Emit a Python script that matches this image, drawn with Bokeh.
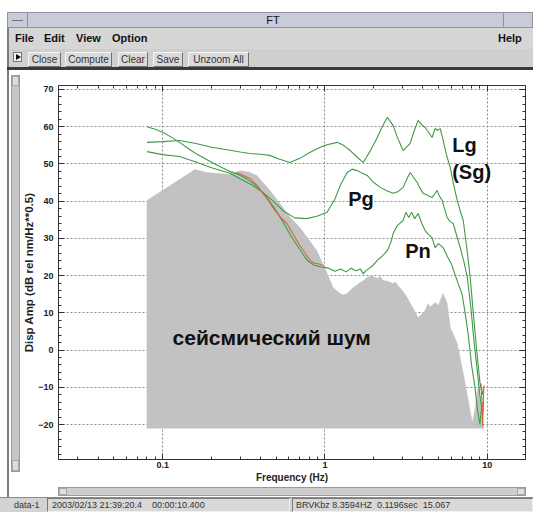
from bokeh.plotting import figure
from bokeh.models import Div, Label, LinearAxis, LogAxis, FixedTicker, Range1d
from bokeh.layouts import column, row
from bokeh.embed import file_html
from bokeh.resources import INLINE

# ---- spectra (frequency in Hz, displacement amplitude in dB) ----
noise_floor = -21.0
noise_f = [0.080, 0.158, 0.187, 0.22, 0.26, 0.30, 0.34, 0.38, 0.457, 0.527, 0.60, 0.70, 0.80,
           0.89, 0.96, 1.03, 1.12, 1.24, 1.30, 1.37, 1.43, 1.49, 1.56, 1.64, 1.72, 1.82, 1.95,
           2.02, 2.10, 2.20, 2.28, 2.45, 2.63, 2.72, 2.82, 3.0, 3.21, 3.49, 3.75, 3.97, 4.14,
           4.32, 4.45, 4.57, 4.77, 4.99, 5.15, 5.35, 5.66, 5.91, 6.53, 7.11, 7.64, 8.08,
           8.44, 8.80, 9.31, 9.50]
noise_db = [40.2, 48.5, 47.7, 47.4, 47.2, 48.2, 47.8, 46.9, 42.9, 39.4, 36.0, 32.9, 29.5,
            26.7, 23.5, 20.6, 16.8, 15.2, 14.8, 15.2, 16.0, 16.8, 17.3, 18.1, 18.6, 19.5, 20.0,
            19.6, 19.2, 19.8, 18.7, 18.4, 17.9, 18.3, 17.3, 16.0, 14.1, 11.2, 8.7, 9.8, 10.6,
            12.5, 11.6, 12.0, 12.8, 12.0, 13.5, 15.2, 12.5, 6.1, 1.8, -6.3, -13.6, -19.5,
            -15.4, -9.0, -19.7, -21.0]

lg_f = [0.080, 0.10, 0.127, 0.16, 0.20, 0.25, 0.30, 0.344, 0.40, 0.457, 0.52, 0.608, 0.70,
        0.80, 0.893, 1.0, 1.19, 1.30, 1.43, 1.58, 1.72, 1.90, 2.10, 2.25, 2.42, 2.52, 2.63,
        2.80, 3.03, 3.18, 3.35, 3.55, 3.75, 3.95, 4.14, 4.35, 4.57, 4.77, 4.95, 5.13, 5.35,
        5.60, 5.91, 6.20, 6.53, 6.80, 7.11, 7.50, 7.85, 8.20, 8.60, 9.00, 9.30, 9.50]
lg_db = [55.8, 56.0, 56.3, 55.5, 54.5, 53.8, 53.2, 52.8, 52.6, 52.3, 51.3, 50.4, 51.5,
         53.0, 54.1, 55.0, 55.8, 55.0, 53.6, 51.8, 50.4, 53.5, 57.1, 60.0, 62.5, 61.5, 60.3,
         57.0, 53.6, 54.5, 55.5, 59.0, 61.7, 60.5, 59.8, 58.5, 57.1, 59.5, 59.0, 59.5, 56.3,
         52.5, 49.0, 44.5, 40.2, 37.5, 34.8, 27.0, 19.5, 10.0, 0.0, -8.5, -12.0, -10.0]

pg_f = [0.080, 0.10, 0.127, 0.16, 0.20, 0.26, 0.30, 0.35, 0.41, 0.48, 0.55, 0.65, 0.774,
        0.90, 1.03, 1.15, 1.25, 1.37, 1.47, 1.58, 1.70, 1.82, 2.0, 2.19, 2.40, 2.63, 2.80,
        3.03, 3.20, 3.35, 3.50, 3.70, 3.85, 4.03, 4.30, 4.57, 4.75, 4.91, 5.05, 5.27, 5.45,
        5.66, 5.90, 6.17, 6.50, 6.81, 7.20, 7.53, 7.90, 8.30, 8.70, 9.00, 9.30, 9.50]
pg_db = [53.3, 52.5, 52.0, 50.5, 49.0, 47.5, 46.0, 44.5, 42.5, 40.0, 37.5, 35.5, 35.3,
         36.0, 37.0, 40.5, 44.5, 47.7, 48.6, 48.2, 47.5, 46.9, 45.0, 43.7, 42.8, 42.1, 42.5,
         43.7, 46.0, 47.7, 46.5, 45.0, 43.5, 42.1, 41.5, 41.0, 42.0, 42.9, 41.5, 40.2, 38.0,
         35.6, 34.5, 34.0, 30.5, 27.5, 23.5, 19.5, 12.0, 2.0, -6.0, -12.0, -17.0, -14.0]

pn_f = [0.080, 0.09, 0.10, 0.115, 0.127, 0.145, 0.16, 0.19, 0.22, 0.26, 0.29, 0.33, 0.38,
        0.43, 0.49, 0.55, 0.62, 0.70, 0.78, 0.86, 0.95, 1.05, 1.15, 1.25, 1.35, 1.45, 1.55,
        1.65, 1.72, 1.80, 1.95, 2.10, 2.25, 2.42, 2.55, 2.63, 2.80, 3.03, 3.15, 3.28, 3.42,
        3.57, 3.75, 3.95, 4.14, 4.35, 4.57, 4.77, 5.0, 5.35, 5.70, 6.0, 6.30, 6.61, 7.0,
        7.30, 7.64, 8.0, 8.40, 8.70, 9.0, 9.30]
pn_db = [60.0, 59.3, 58.5, 57.0, 55.8, 54.0, 52.8, 51.0, 49.5, 48.0, 47.2, 46.0, 44.0,
         41.5, 38.0, 34.5, 30.5, 27.0, 24.0, 22.8, 22.3, 22.0, 21.2, 21.8, 21.0, 22.0, 21.3,
         21.8, 20.5, 21.4, 22.5, 24.1, 25.2, 26.7, 29.0, 31.3, 33.5, 34.8, 37.0, 35.6, 37.0,
         35.3, 36.7, 34.0, 32.1, 31.0, 30.2, 27.5, 28.6, 27.5, 25.0, 23.2, 20.5, 17.9, 15.0,
         10.0, 4.0, -4.0, -10.0, -16.0, -20.0, -14.0]

red_f = [0.286, 0.31, 0.344, 0.38, 0.414, 0.45, 0.491, 0.53, 0.582, 0.64, 0.70, 0.76, 0.81,
         0.86, 0.90, 0.95, 0.99]
red_db = [47.7, 47.0, 46.1, 44.3, 42.1, 40.0, 37.5, 35.8, 34.0, 31.0, 28.1, 25.8, 24.1,
          23.3, 23.2, 22.9, 22.7]
red_hf_f = [9.15, 9.25, 9.32, 9.38, 9.43, 9.48, 9.55]
red_hf_db = [-9.0, -13.0, -18.0, -20.5, -16.0, -12.0, -9.5]

x_major = [0.1, 1, 10]
x_labels = ["0.1", "1", "10"]
x_minor = [k * 10.0 ** e for e in (-2, -1, 0, 1) for k in range(2, 10)]
y_major = list(range(-20, 71, 10))
y_minor = list(range(-28, 71, 2))

FONT = "'Liberation Sans', Arial, sans-serif"
GREEN = "#3f9a45"
RED = "#d2683a"

# ---- spectrum plot ----
p = figure(width=513, height=415, x_axis_type="log",
           x_range=Range1d(0.0228, 17.2), y_range=Range1d(-29.4, 71.07),
           output_backend="svg", toolbar_location=None,
           min_border_left=37, min_border_right=8, min_border_top=15, min_border_bottom=26,
           background_fill_color="white", border_fill_color="white",
           outline_line_color="#444", margin=0)

noise_x = [noise_f[0]] + noise_f + [noise_f[-1]]
noise_y = [noise_floor] + noise_db + [noise_floor]
p.patch(noise_x, noise_y, fill_color="#c2c2c2", line_color="#c2c2c2", line_width=0.5)

for fx, fy in ((lg_f, lg_db), (pg_f, pg_db), (pn_f, pn_db)):
    p.line(fx, fy, line_color=GREEN, line_width=1.1)
p.line(red_f, red_db, line_color=RED, line_width=1.1)
p.line(red_hf_f, red_hf_db, line_color=RED, line_width=1.1)

x_ticker = FixedTicker(ticks=x_major, minor_ticks=x_minor)
y_ticker = FixedTicker(ticks=y_major, minor_ticks=y_minor)


def style_axis(ax, labels=True):
    ax.axis_line_color = "#333"
    ax.major_tick_line_color = "#333"
    ax.minor_tick_line_color = "#333"
    ax.major_tick_in = 6
    ax.major_tick_out = 0
    ax.minor_tick_in = 3
    ax.minor_tick_out = 0
    ax.major_label_text_font = FONT
    ax.major_label_text_font_style = "bold"
    ax.major_label_text_color = "#222"
    if labels:
        ax.major_label_text_font_size = "9px"
    else:
        ax.major_label_text_font_size = "1px"
        ax.major_label_text_alpha = 0
        ax.major_label_standoff = 0
    ax.axis_label_text_font = FONT
    ax.axis_label_text_font_style = "bold"
    ax.axis_label_text_font_size = "10px"
    ax.axis_label_text_color = "#222"


xa = p.xaxis[0]
xa.ticker = x_ticker
xa.major_label_overrides = dict(zip(x_major, x_labels))
xa.axis_label = "Frequency (Hz)"
style_axis(xa)
xa.major_label_standoff = 2
xa.axis_label_standoff = 1

ya = p.yaxis[0]
ya.ticker = y_ticker
ya.axis_label = "Disp Amp (dB rel nm/Hz**0.5)"
style_axis(ya)
ya.axis_label_text_font_size = "11.5px"
ya.major_label_standoff = 5
ya.axis_label_standoff = 0

top_ax = LogAxis(ticker=x_ticker)
style_axis(top_ax, labels=False)
p.add_layout(top_ax, "above")
right_ax = LinearAxis(ticker=y_ticker)
style_axis(right_ax, labels=False)
p.add_layout(right_ax, "right")

for g in (p.xgrid[0], p.ygrid[0]):
    g.grid_line_color = "#8c8c8c"
    g.grid_line_dash = "2 2"
    g.grid_line_width = 1

label_style = dict(text_font=FONT, text_font_style="bold", text_font_size="20px",
                   text_color="#111", text_baseline="middle", text_align="left")
p.add_layout(Label(x=6.08, y=55.0, text="Lg", **label_style))
p.add_layout(Label(x=6.08, y=47.7, text="(Sg)", **label_style))
p.add_layout(Label(x=1.39, y=40.7, text="Pg", **label_style))
p.add_layout(Label(x=3.12, y=26.7, text="Pn", **label_style))
noise_style = dict(label_style, text_font_size="21px")
p.add_layout(Label(x=0.115, y=3.4, text="сейсмический шум", **noise_style))


# ---- window chrome ----
def box(l, t, w, h, bg="none", extra=""):
    return (f'<div style="position:absolute;left:{l}px;top:{t}px;width:{w}px;height:{h}px;'
            f'box-sizing:border-box;background:{bg};{extra}"></div>')


def txt(l, t, s, size=11, weight="normal", color="#222", extra=""):
    return (f'<div style="position:absolute;left:{l}px;top:{t}px;font:{weight} {size}px {FONT};'
            f'color:{color};white-space:nowrap;line-height:1;{extra}">{s}</div>')


def button(l, w, s):
    return (f'<div style="position:absolute;left:{l}px;top:52px;width:{w}px;height:15px;'
            f'box-sizing:border-box;background:#d9d9d9;border:1px solid;'
            f'border-color:#f6f6f6 #6f6f6f #6f6f6f #f6f6f6;font:10px {FONT};color:#333;'
            f'text-align:center;line-height:13px;white-space:nowrap">{s}</div>')


def panel(w, h, parts):
    inner = "".join(parts)
    return (f'<div style="position:relative;width:{w}px;height:{h}px;overflow:hidden;'
            f'background:#fff">{inner}</div>')


menu_items = [("File", 15), ("Edit", 44), ("View", 76), ("Option", 112)]
buttons = [("Close", 28, 33), ("Compute", 65, 47), ("Clear", 118, 30), ("Save", 153, 30),
           ("Unzoom All", 188, 61)]

top_parts = [
    box(7, 12, 526, 58, "#d2d2d2", "border-left:2px solid #7c7c7c"),
    box(7, 12, 526, 16, "#c8cbd8", "border:1px solid #8e92a2"),
    box(8, 13, 20, 14, "#c8cbd8", "border-right:1px solid #8e92a2"),
    box(12, 20, 11, 1, "#6d7080"),
    box(503, 13, 1, 14, "#8e92a2"),
    txt(273, 15, "FT", 11, "normal", "#111", "transform:translateX(-50%)"),
    box(7, 28, 526, 21, "#d6d6d6", "border-left:2px solid #7c7c7c"),
]
top_parts += [txt(x, 33, s, 11, "bold", "#111") for s, x in menu_items]
top_parts += [txt(498, 33, "Help", 11, "bold", "#111")]
top_parts += [box(7, 49, 526, 19, "#cfcfcf", "border-left:2px solid #7c7c7c"),
              box(7, 67, 526, 3, "#3a3a3a"),
              box(13, 52, 9, 10, "#f2f2f2", "border:1px solid #777"),
              box(16, 54, 0, 0, "none",
                  "border-left:5px solid #000;border-top:3px solid transparent;"
                  "border-bottom:3px solid transparent")]
top_parts += [button(l, w, s) for s, l, w in buttons]
top_div = Div(text=panel(533, 70, top_parts), width=533, height=70, margin=0)

left_parts = [
    box(7, 0, 2, 415, "#7c7c7c"),
    box(11, 5, 9, 397, "#c6c6c6", "border:1px solid #9a9a9a"),
    box(12, 6, 7, 10, "#dcdcdc", "border:1px solid #a8a8a8"),
    box(12, 390, 7, 11, "#dcdcdc", "border:1px solid #a8a8a8"),
]
left_div = Div(text=panel(20, 415, left_parts), width=20, height=415, margin=0)

status_left = "2003/02/13 21:39:20.4&nbsp;&nbsp;&nbsp;&nbsp;00:00:10.400"
status_right = "BRVKbz 8.3594HZ&nbsp;&nbsp;0.1196sec&nbsp;&nbsp;15.067"
bottom_parts = [
    box(7, 0, 2, 12, "#7c7c7c"),
    box(58, 2, 468, 9, "#cdcdcd", "border:1px solid #9a9a9a"),
    box(59, 3, 8, 7, "#e0e0e0", "border:1px solid #a8a8a8"),
    box(517, 3, 8, 7, "#e0e0e0", "border:1px solid #a8a8a8"),
    box(0, 12, 533, 15, "#d3d3d3", "border-top:1px solid #8a8a8a"),
    txt(14, 16, "data-1", 9, "normal", "#333"),
    box(47, 13, 243, 14, "#d8d8d8", "border:1px solid;border-color:#7a7a7a #f0f0f0 #f0f0f0 #7a7a7a"),
    txt(52, 16, status_left, 9, "normal", "#333"),
    box(292, 13, 241, 14, "#d8d8d8", "border:1px solid;border-color:#7a7a7a #f0f0f0 #f0f0f0 #7a7a7a"),
    txt(296, 16, status_right, 9, "normal", "#333"),
]
bottom_div = Div(text=panel(533, 27, bottom_parts), width=533, height=27, margin=0)

layout = column(top_div, row(left_div, p, spacing=0, margin=0), bottom_div,
                spacing=0, margin=0)

open("out.html", "w").write(file_html(layout, INLINE))
